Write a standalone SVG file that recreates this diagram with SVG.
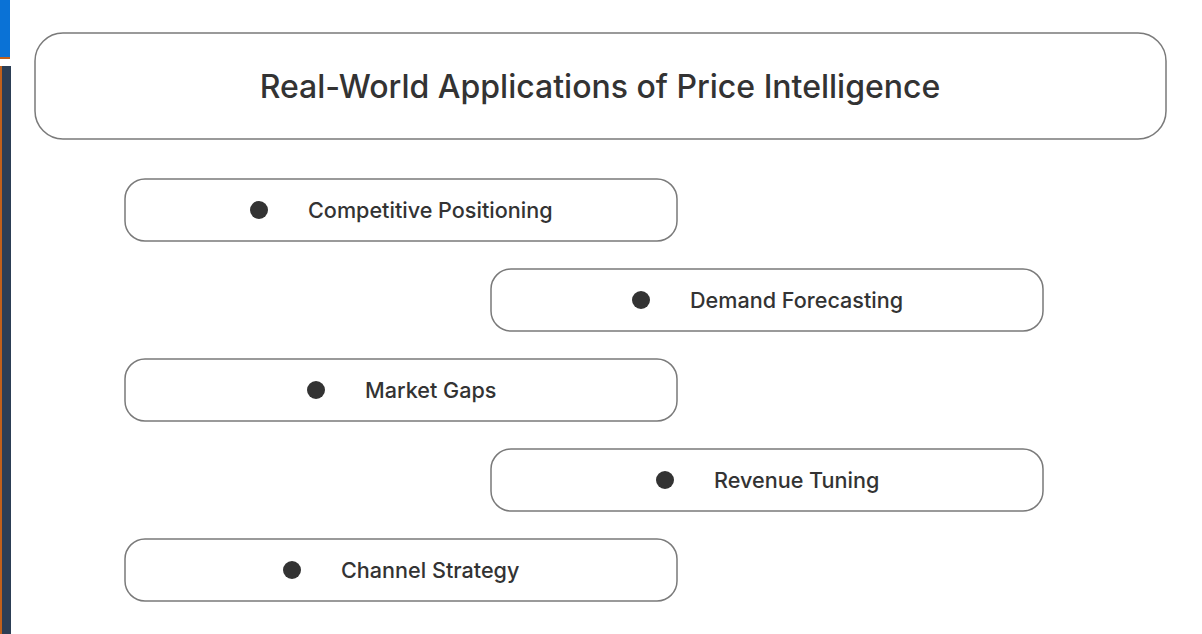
<svg xmlns="http://www.w3.org/2000/svg" width="1202" height="634" viewBox="0 0 1202 634">
<style>
.box{fill:#fff;stroke:#7a7a7a;stroke-width:1.5}
.dot{fill:#333}
.lbl{font-family:Inter,"Liberation Sans",sans-serif;font-size:21.6px;font-weight:500;fill:#333}
.title{font-family:Inter,"Liberation Sans",sans-serif;font-size:32px;font-weight:500;fill:#333;text-anchor:middle}
</style>
<rect x="0" y="0" width="1202" height="634" fill="#fff"/>
<rect x="0" y="0" width="10" height="57" fill="#0a72d6"/>
<rect x="0" y="57" width="10" height="2" fill="#c0601c"/>
<rect x="0" y="66" width="11" height="568" fill="#2c3e55"/>
<rect x="0" y="66" width="2" height="568" fill="#c0601c"/>
<g id="title">
<rect class="box" x="35" y="33" width="1131" height="106" rx="28"/>
<text class="title" x="600" y="98">Real-World Applications of Price Intelligence</text>
</g>
<g id="connectors"></g>
<g id="n1">
<rect class="box" x="125" y="179" width="552" height="62" rx="20"/>
<circle class="dot" cx="259" cy="210" r="9"/>
<text class="lbl" x="308" y="218">Competitive Positioning</text>
</g>
<g id="n2">
<rect class="box" x="491" y="269" width="552" height="62" rx="20"/>
<circle class="dot" cx="641" cy="300" r="9"/>
<text class="lbl" x="690" y="308">Demand Forecasting</text>
</g>
<g id="n3">
<rect class="box" x="125" y="359" width="552" height="62" rx="20"/>
<circle class="dot" cx="316" cy="390" r="9"/>
<text class="lbl" x="365" y="398">Market Gaps</text>
</g>
<g id="n4">
<rect class="box" x="491" y="449" width="552" height="62" rx="20"/>
<circle class="dot" cx="665" cy="480" r="9"/>
<text class="lbl" x="714" y="488">Revenue Tuning</text>
</g>
<g id="n5">
<rect class="box" x="125" y="539" width="552" height="62" rx="20"/>
<circle class="dot" cx="292" cy="570" r="9"/>
<text class="lbl" x="341" y="578">Channel Strategy</text>
</g>
</svg>
